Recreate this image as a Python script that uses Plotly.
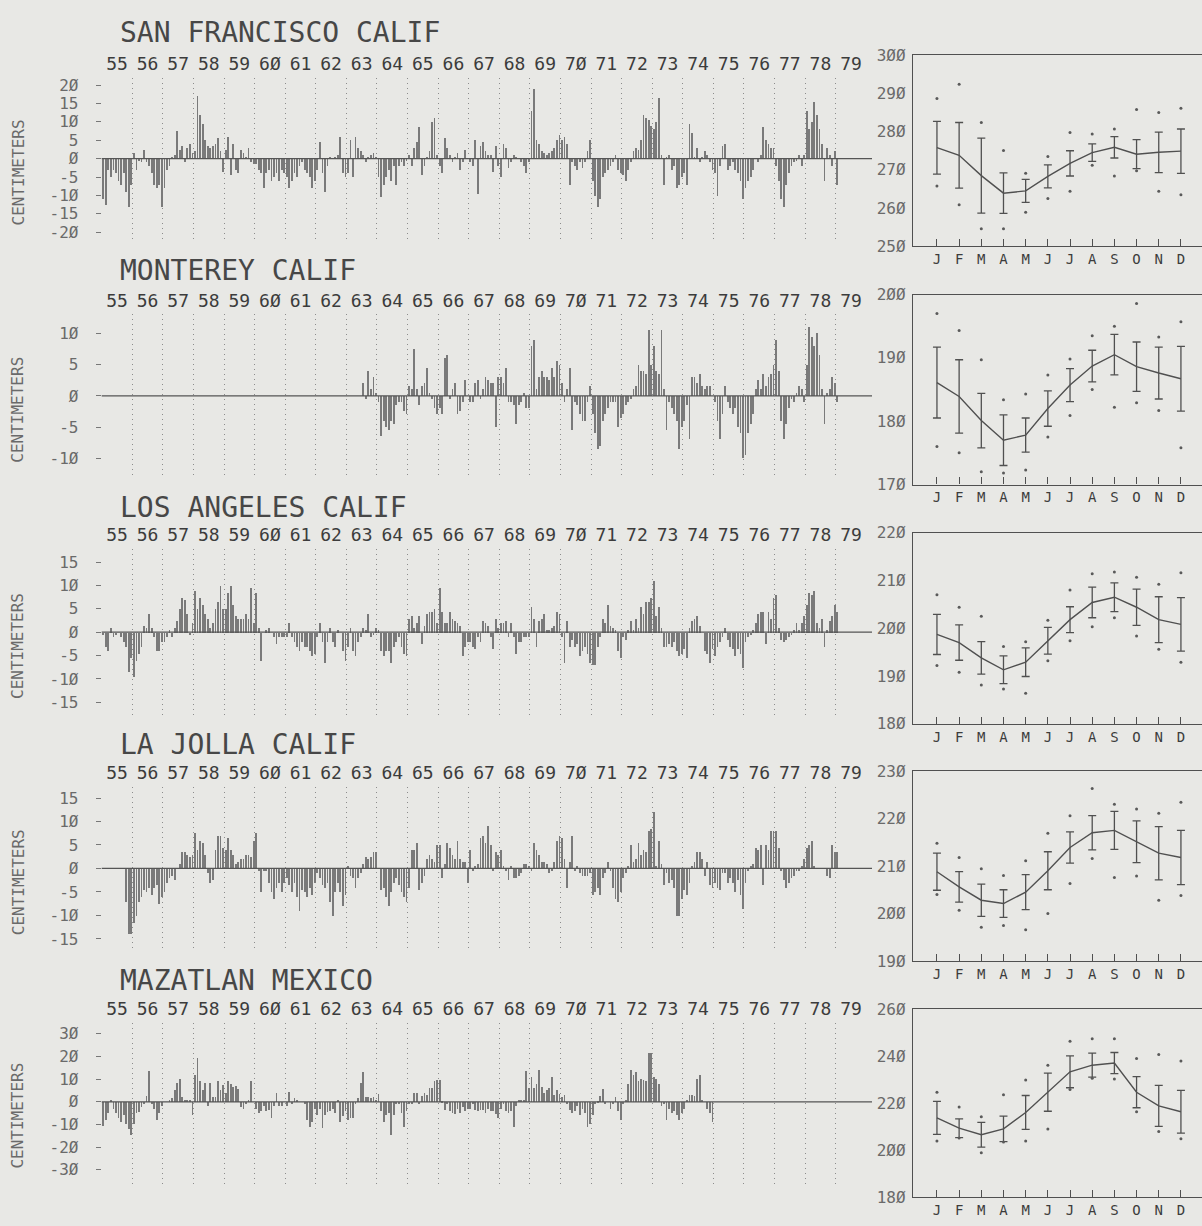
import plotly.graph_objects as go

W, H = 1202, 1226

# ---------------------------------------------------------------- data
YEARS = list(range(1955, 1980))
YEAR_LABELS = [str(y)[2:] for y in YEARS]
MONTH_LABELS = ["J", "F", "M", "A", "M", "J", "J", "A", "S", "O", "N", "D"]
N = None

# monthly sea-level anomalies (cm), Jan..Dec for each year 1955-1979
SF_ANOM = [
    -11, -12.5, -3, -5, -3, -4, -6, -7, -4, -9, -13, -7,
    1.5, -3, -0.5, -1, 2.5, -1, -2, -4, -7, -8, -7, -13,
    -8, -3, -2, 0.5, 1, 7.5, 2.5, 3.5, -1, 3, 4, 1.5,
    2, 17, 12, 9.5, 5, 3.5, 3, 3.5, 4, 5.5, 2, -3.5,
    2.5, 6, -4.5, 4, -3, -4, 2.5, 1.5, 0.5, 3, -1, -1.5,
    -1.5, -3, -4, -8, -4, -3, -6, -5, -4, -6, -3, -4,
    -5, -8, -6, -4, -5, -2, -1, -3, -4, -5, -8, -6,
    -3, 4.5, -4, -9, -2, 0.5, 0, 0.5, 1, 6, -4, -5,
    -4, 5, -5, 6, 3, 2, 1, -1, 0.5, 1, 1.5, 0.5,
    -5, -10.5, -7, -5, -3, -6, -2, -7, -2, -1, -2, -0.5,
    1, -2, 3, 4.5, 8.5, -4.5, -2, 0.5, 2, 10, 11, 1,
    -2, -4, 5.5, 3, 1, -1, 0.5, 1.5, -3, -1, 2.5, 0,
    -1, -2, 5, -9.5, 3.5, 4.5, 2, 1, 1, -3.5, 3.5, -2,
    -5, 4, 3, -2.5, -1, 1, 0.5, 0, -1, -2, -4, -1,
    13, 19, 5, 4, 2, 1.5, 1, 1.5, 2, 3, 5, 6.5,
    5, 6, 4, -7, -1, -2, -3, -1, -2.5, -1, 2, 5,
    -6, -10, -13, -11, -5, -4, -3, -2, -1, 1, -3, -4,
    -4.5, -6, -3, -1, 2, 3, 2.5, 5, 12, 11, 10.5, 9,
    8, 10, 16.5, 1, -7, 0.5, 1, -3, -2, -8, -7, -5,
    -4, -7, 9.5, 7, 0.5, 3, -1, 0.5, 2, 1, -1, -3,
    -4, -10, -2, 3.5, 4, -3, -2, -1, -3, -4, -6, -11,
    -8, -6, -5, -3, 0, -1, 1, 8.5, 5, 4, 3, 3,
    -2, -6, -11, -13, -7, -4, -2, -1, -0.5, 1, -2, 1,
    13, 8, 10, 15.5, 12, 8, 4, -6, 3, 1, -2, 2,
    -7, N, N, N, N, N, N, N, N, N, N, N,
]

MONTEREY_ANOM = [N] * 12 * 8 + [
    N, N, N, N, N, N, 2, -0.5, 4, 1, 3, 0.5,
    -1, -6.5, -4, -5, -5.5, -4, -4.5, -1.5, -1, -1, -2.5, -3,
    1.5, 1, 7.5, 1, -1.5, 1.5, 2, 4.5, 0.5, -0.5, -2, -3,
    -2, -3, 6, 6.5, -0.5, 1, 2, -3, -2.5, -1, 2.5, 0,
    -1, -1, 2, 2.5, -0.5, 1, 3, 2.5, 2, 2, -5, 3,
    3, 2, 4.5, -1, -1, -1.5, -4.5, -1.5, -1, 0.5, -2, -2,
    8, 9, 1, 3, 4, 3, 3, 2.5, 4.5, 3, 5.5, 5,
    2, -1, 1, 4.5, -5.5, -1, -1.5, -3, -4, -4, -1, 1.5,
    -3, -6, -8.5, -8, -4, -3, -2, -1, -1, -1, -5, -3.5,
    -3, -1.5, -1, -0.5, 1, 1.5, 5, 4, 4, 3.5, 10.5, 5,
    8, 4, 3.5, 10.5, 1, -5.5, -1, -2, -3, -4, -8.5, -5,
    -4, -1.5, -7, 3, 3, 2, 3.5, 1.5, 1, 1.5, 1.5, 0,
    -1, -4, -7, -3, 1.5, -1, -2, -3, -2, -5, -6, -10,
    -9.5, -6, -4.5, -3, 1, 2.5, 1, 3.5, 1.5, 3, 3.5, 5,
    9, 4, -4, -7, -4.5, -2, -0.5, -1, 0.5, 1.5, 1, -1,
    5, 11, 9.5, 8, 10, 6.5, 1, -4.5, 0.5, 1, 3, 2,
    -1, N, N, N, N, N, N, N, N, N, N, N,
]

LA_ANOM = [
    -0.5, -3, -4, 1, -1, -0.5, 0, -1, -2, -3, -8.5, -5.5,
    -9.5, -6, -4.5, -3, 1.5, 1, 4, 1, -1, -4, -4, -2,
    -2, -1, 0.5, -1, 1, 2.5, 5, 7.5, 7, 4, -0.5, 2,
    9, 5, 7.5, 6, 4, 3, 1, 2, 5, 6.5, 10, 5,
    5, 8.5, 10, 6, 3.5, 3, 3, 3, 4, 3, 9.5, 2,
    8.5, 1, -6, 0, 0.5, 1, 0, -1, -2.5, -1, -1, -1,
    -1, 2, -1, -2, -3, -4, -2, -3, -3, -4, -5, -4.5,
    -1, 2, -2, -6.5, -2, 1, -2, -3, 0.5, 0, -4, -6,
    -3, 1, -4, -5, -2, -1, 1, 0.5, 4, -1, -0.5, 1,
    0.5, -4, -5, -4, -4, -6.5, -3, -2, -1, -3, -4.5, -5,
    3, 3.5, 1, 2, 3.5, -2.5, 1.5, 4, 4.5, 4.5, 5, 2,
    9.5, 4.5, 2, 2, 4.5, 3, 2.5, 2, 1.5, -5, -3, -2,
    -2, -3, -3.5, -1, -2, 2.5, 2, 1.5, -1, -3.5, 3, 1,
    2, 2, 2.5, -1, 2, -1, -4.5, -2, -2, -1, -1, -1,
    5.5, 3, -3, 2.5, 3, 4, 0.5, 0.5, 1, 1.5, 4.5, 4,
    -1, -6.5, 2.5, -3, -1.5, -3, -2.5, -5, -4, -3, -4.5, -6.5,
    -7, -7, -3, -1, 3, 2, 6, 1.5, 1, 0.5, -4, -5.5,
    -1, -1.5, 0.5, 2.5, 0.5, 3, 1, 5.5, 4, 6.5, 6.5, 7.5,
    11, 3.5, 5.5, 1, -3, -3, -2.5, -3, -2, -4, -5, -4.5,
    -3.5, -5.5, 1, 2.5, 3, 3.5, 1.5, 0, -4, -4.5, -6.5, -3.5,
    -5, -3, -2, -1, 1, -1.5, -3, -3.5, -5, -3.5, -4.5, -7.5,
    -2, -1, -0.5, 0.5, 2, 4, 4.5, 4.5, -2.5, 4.5, 3, 7.5,
    8, 1, -1.5, -2, -1.5, -1, -0.5, 0.5, 2, 0.5, 2, 3.5,
    6, 8.5, 8, 9, 2, 1, 3, -3, 0.5, 2.5, 3.5, 6,
    4.5, N, N, N, N, N, N, N, N, N, N, N,
]

LA_JOLLA_ANOM = [
    N, N, N, N, N, N, N, N, N, -7, -14, -14,
    -11.5, -10, -7, -6, -4.5, -5, -4, -5.5, -4, -3.5, -7.5, -6,
    -5, -3, -2, -1.5, -2.5, 0, 1, 3.5, 3.5, 3, 2.5, 3,
    7.5, 4, 6, 5.5, 3, -1, -3, -2.5, 4, 7, 7, 4.5,
    4, 6.5, 4, 3, 1, 1.5, 2, 2, 3, 3, 2.5, 6,
    7.5, -0.5, -5, -0.5, -0.5, -3, -5, -6.5, -4, -3, -5, -3,
    -2, -3.5, -5, -3, -6, -9, -4.5, -5, -6, -4, -5.5, -3,
    -1, -2, -3.5, -4, -3, -7, -10, -5, -3, -5, -8, -5.5,
    0.5, -1.5, -2, -4, -2, -1, 1, 2.5, 2, 2.5, 3.5, 3.5,
    0, -4.5, -4, -6, -8, -5, -3, -2, -3.5, -5, -6, -7,
    -4, 4, 4, 5.5, -4.5, -3, -1.5, 2, 3, 2, 1.5, 5,
    5, -2, 1, 5.5, 4.5, 3, 2, 6, 2, 1.5, 1.5, -3,
    4, -0.5, 0.5, 1, 6.5, 7, 5.5, 9, 5, -0.5, 3.5, 3,
    4, 0.5, -0.5, -2.5, 0.5, -2, -2, -1.5, -1, 1, 1, 0.5,
    -0.5, 5.5, 4, 3, 1.5, 1.5, 1, -1, -0.5, 1.5, 6, 7,
    6.5, 2, -4, 1.5, 7, -0.5, 0.5, -1, -1.5, -1.5, -1.5, -1,
    -5.5, -5, -4, -5.5, -2, -1, 1.5, -0.5, -4, -6.5, -7, -5,
    -2, -1, 0.5, 5, 1.5, 2, 5.5, 3, 4, 3.5, 8, 8.5,
    12, 0.5, 6, 1, -3.5, -1, -3, -2.5, -4, -10, -10, -6.5,
    -4.5, -5.5, -3, 0.5, 1.5, 3.5, 3.5, 2, -1.5, 1.5, -3.5, -4,
    -3, -4, -4.5, -1, -1, -3, -2, -3, -5, -2.5, -5.5, -8.5,
    -3, -0.5, 0.5, 1, 4.5, 4, 5, -3.5, 5, 4, 8, 8,
    8, 4.5, -0.5, -2.5, -4, -3, -2, -1.5, -0.5, -0.5, 0.5, 2,
    4.5, 5, 6, 0.5, 0, 0, 0, 0, -1.5, -2, 5, 3.5,
    3.5, N, N, N, N, N, N, N, N, N, N, N,
]

MAZATLAN_ANOM = [
    -10.5, -8, -5, 1, -3, -5, -7, -9, -6, -10, -12, -14.5,
    -10, -5, -4.5, -2.5, -1, 2.5, 13.5, -1, -3, -8, -5, -2,
    0, 0, 0.5, 1.5, 5, 8.5, 10, 2, 1, 0.5, 0.5, -6,
    12, 19.5, 9, 5, 8.5, -2, 8.5, 2, 2, 9, 5, 7.5,
    4, 9, 8, 6.5, 7, 5.5, -2.5, -3, -1, 0.5, 9, 0,
    -3, -5, -4, -2, -4, -3.5, -7, -2, 4, -2, -2, 0,
    -2, 4.5, -1, 1.5, 0.5, 0, 0, -1, -8, -11, -9, -3,
    -6, -3, -11.5, -6, -4.5, -4, -3, -5, 1, -9, -6.5, -4,
    -8, -7, -7, -1, 1.5, 8.5, 13, 2, 2, 1.5, 2, 1,
    3.5, -4, -9, -6, -5, -14.5, -6, -1, -1, -5, -11, -4,
    -1, -1, 4, 4, -1, 2.5, 4, 3, 6, 6, 9, 9.5,
    9.5, -0.5, -3.5, -1, -4, -5, -5.5, -3, -5, -2.5, -4, -3,
    -3, -1, -3.5, -4, -3.5, -3.5, -5, -3, -4, -4, -5.5, -7,
    -3, -1, -4, -5, -4, -11, -2, 1, 0.5, 1, 13.5, 6,
    11, 6, 8, 14, 6.5, 4, 5, 6, 11, 3, 5, 3.5,
    2, 3, -1, -3.5, -5, -4, -2, -6, -3, -5, -11, -10,
    -6, -1, -0.5, 2.5, 5.5, -1, 0, -3, -1, 2, -4, -8,
    -1, 1, 8, 14, 12, 13, 9, 10, 9.5, 9, 21.5, 21.5,
    11, 10, 8, -2, -1, -8, -3, -5, -4, -6, -8, -5,
    -3, 0.5, 3, 3, 2.5, 10, 12, 1, 0, -3, -5, -9,
] + [N] * 12 * 5

# monthly mean sea level (cm): mean, standard deviation, extreme high, extreme low
SF_MEAN = [275.8, 273.8, 268.5, 263.9, 264.5, 268.3, 271.7, 274.5, 275.9, 274.1, 274.6, 274.9]
SF_STD = [6.9, 8.6, 9.8, 5.3, 3.0, 3.0, 3.3, 2.3, 2.8, 3.8, 5.3, 5.8]
SF_MAX = [288.7, 292.4, 282.4, 275.1, 269.1, 273.5, 279.8, 279.4, 280.7, 285.8, 285.0, 286.1]
SF_MIN = [265.8, 260.9, 254.6, 254.6, 258.9, 262.5, 264.4, 271.2, 268.4, 269.8, 264.4, 263.5]

MONTEREY_MEAN = [186.1, 183.9, 180.1, 177.0, 177.8, 182.0, 185.7, 188.7, 190.5, 188.6, 187.6, 186.7]
MONTEREY_STD = [5.6, 5.8, 4.3, 4.0, 2.7, 2.8, 2.6, 2.5, 3.2, 3.9, 4.1, 5.1]
MONTEREY_MAX = [197.0, 194.3, 189.7, 183.4, 184.3, 187.3, 189.8, 193.5, 195.0, 198.6, 193.3, 195.7]
MONTEREY_MIN = [176.0, 175.0, 172.0, 171.8, 172.3, 177.5, 180.9, 185.0, 182.2, 182.9, 181.7, 175.8]

LA_MEAN = [198.7, 197.0, 193.8, 191.3, 192.9, 197.4, 201.8, 205.4, 206.5, 204.4, 201.8, 200.8]
LA_STD = [4.2, 3.7, 3.4, 2.9, 3.0, 2.8, 2.7, 3.2, 3.0, 3.8, 4.8, 5.6]
LA_MAX = [207.0, 204.4, 202.5, 196.2, 197.2, 201.7, 208.0, 211.4, 211.8, 210.7, 209.2, 211.6]
LA_MIN = [192.2, 190.8, 188.1, 187.3, 186.4, 193.2, 197.4, 200.3, 202.2, 198.4, 195.6, 192.9]

LA_JOLLA_MEAN = [208.8, 205.6, 202.8, 202.1, 204.5, 209.0, 213.9, 217.0, 217.5, 215.1, 212.7, 211.8]
LA_JOLLA_STD = [3.9, 3.2, 3.4, 2.9, 3.7, 4.0, 3.3, 3.6, 4.0, 4.4, 5.6, 5.7]
LA_JOLLA_MAX = [214.8, 211.8, 209.4, 208.0, 211.1, 216.9, 220.6, 226.3, 223.0, 222.0, 221.1, 223.4]
LA_JOLLA_MIN = [204.0, 200.7, 197.1, 197.5, 196.6, 200.0, 206.3, 211.6, 207.6, 207.9, 202.8, 203.8]

MAZATLAN_MEAN = [213.8, 209.4, 206.6, 209.1, 216.1, 224.7, 233.4, 236.2, 237.1, 224.7, 218.9, 216.4]
MAZATLAN_STD = [7.0, 4.0, 5.3, 5.4, 7.2, 8.1, 6.8, 5.1, 4.5, 6.6, 8.7, 9.1]
MAZATLAN_MAX = [224.7, 218.4, 214.3, 223.6, 229.9, 236.2, 246.4, 247.4, 247.4, 239.0, 240.8, 238.0]
MAZATLAN_MIN = [204.0, 205.2, 198.9, 203.5, 204.0, 209.1, 225.9, 230.6, 230.3, 216.4, 208.0, 204.9]

STATIONS = ["SAN FRANCISCO CALIF", "MONTEREY CALIF", "LOS ANGELES CALIF",
            "LA JOLLA CALIF", "MAZATLAN MEXICO"]
ANOMALIES = [SF_ANOM, MONTEREY_ANOM, LA_ANOM, LA_JOLLA_ANOM, MAZATLAN_ANOM]
MEANS = [SF_MEAN, MONTEREY_MEAN, LA_MEAN, LA_JOLLA_MEAN, MAZATLAN_MEAN]
STDS = [SF_STD, MONTEREY_STD, LA_STD, LA_JOLLA_STD, MAZATLAN_STD]
MAXS = [SF_MAX, MONTEREY_MAX, LA_MAX, LA_JOLLA_MAX, MAZATLAN_MAX]
MINS = [SF_MIN, MONTEREY_MIN, LA_MIN, LA_JOLLA_MIN, MAZATLAN_MIN]

ANOM_TICKS = [list(range(-20, 21, 5)), list(range(-10, 11, 5)), list(range(-15, 16, 5)),
              list(range(-15, 16, 5)), list(range(-30, 31, 10))]
CLIM_TICKS = [list(range(250, 301, 10)), list(range(170, 201, 10)), list(range(180, 221, 10)),
              list(range(190, 231, 10)), list(range(180, 261, 20))]

# ---------------------------------------------------------------- layout geometry (pixels)
# left panels: zero-line pixel, pixels per cm, top and bottom of plot area
LEFT_GEOM = [(152, 3.74, 70, 238), (393, 6.33, 310, 476), (633, 4.75, 548, 720),
             (873, 4.77, 790, 958), (1110, 2.3, 1030, 1198)]
# right panels: top and bottom of the box
RIGHT_GEOM = [(47, 241), (290, 483), (532, 726), (774, 967), (1016, 1207)]
TITLE_Y = [24, 266, 506, 747, 987]

X_LEFT0, X_LEFT1 = 101.7, 866.3     # 1955.0 .. 1980.0
ZERO_END = 872
X_RIGHT0 = 913

INK = "#505050"
BAR = "#7a7a7a"
GRID = "#8c8c8c"
BG = "#e8e8e5"
FONT = "DejaVu Sans Mono"


def slash0(s):
    return s.replace("0", "\u00d8")


def py(p):
    return 1 - p / H


def px(p):
    return p / W


def axis_id(letter, n):
    return letter if n == 1 else f"{letter}{n}"


fig = go.Figure()
layout = {}
annotations = []
shapes = []

month_x = [y + (m + 0.5) / 12 for y in YEARS for m in range(12)]
clim_x = list(range(1, 13))

for i, name in enumerate(STATIONS):
    la, ra = 2 * i + 1, 2 * i + 2
    lx, ly = axis_id("x", la), axis_id("y", la)
    rx, ry = axis_id("x", ra), axis_id("y", ra)

    # anomaly bars (one thin stroke per month)
    fig.add_trace(go.Bar(x=month_x, y=ANOMALIES[i], width=0.026,
                         marker=dict(color=BAR, line=dict(width=0)),
                         xaxis=lx, yaxis=ly, showlegend=False))

    zero, ppc, top, bot = LEFT_GEOM[i]
    yr_rng = [-(bot - zero) / ppc, (zero - top) / ppc]
    layout[f"xaxis{la}"] = dict(
        domain=[px(X_LEFT0), px(X_LEFT1)], range=[1955, 1980], anchor=ly, side="top",
        tickmode="array", tickvals=[y + 0.5 for y in YEARS],
        ticktext=[slash0(t) for t in YEAR_LABELS], ticks="", ticklabelstandoff=3,
        tickfont=dict(family=FONT, size=18, color="#3c3c3c"),
        showgrid=False, zeroline=False, showline=False,
        minor=dict(tickmode="array", tickvals=YEARS, showgrid=True,
                   gridcolor=GRID, gridwidth=1, griddash="1px,4px", ticks=""),
    )
    layout[f"yaxis{la}"] = dict(
        domain=[py(bot), py(top)], range=yr_rng, anchor=lx,
        tickmode="array", tickvals=ANOM_TICKS[i],
        ticktext=[slash0(str(v)) for v in ANOM_TICKS[i]],
        ticks="outside", ticklen=5, tickwidth=1, tickcolor="#777",
        ticklabelstandoff=14,
        tickfont=dict(family=FONT, size=16, color="#6a6a6a"),
        showgrid=False, zeroline=False, showline=False,
    )
    # zero line, running slightly past the last year
    shapes.append(dict(type="line", xref=f"{lx} domain", yref=ly,
                       x0=0, x1=(ZERO_END - X_LEFT0) / (X_LEFT1 - X_LEFT0), y0=0, y1=0,
                       line=dict(color="#555", width=1.2)))

    annotations.append(dict(text="CENTIMETERS", xref="paper", yref="paper",
                            x=px(18), y=py(zero + 14), textangle=-90, showarrow=False,
                            font=dict(family=FONT, size=16, color="#6a6a6a"),
                            xanchor="center", yanchor="middle"))
    annotations.append(dict(text=name, xref="paper", yref="paper",
                            x=px(118), y=py(TITLE_Y[i]), showarrow=False,
                            font=dict(family=FONT, size=28, color="#474747"),
                            xanchor="left", yanchor="middle"))

    # monthly climatology: mean with one-sigma bars, extremes as dots
    fig.add_trace(go.Scatter(x=clim_x, y=MEANS[i], mode="lines",
                             line=dict(color=INK, width=1.4),
                             error_y=dict(type="data", array=STDS[i], visible=True,
                                          color=INK, thickness=1.3, width=4),
                             xaxis=rx, yaxis=ry, showlegend=False))
    fig.add_trace(go.Scatter(x=clim_x + clim_x, y=MAXS[i] + MINS[i], mode="markers",
                             marker=dict(color="#5a5a5a", size=3),
                             xaxis=rx, yaxis=ry, showlegend=False))

    rt, rb = RIGHT_GEOM[i]
    layout[f"xaxis{ra}"] = dict(
        domain=[px(X_RIGHT0), 1.0], range=[-0.08, 12.95], anchor=ry,
        tickmode="array", tickvals=clim_x, ticktext=MONTH_LABELS,
        ticks="inside", ticklen=7, tickwidth=1.2, tickcolor=INK,
        tickfont=dict(family=FONT, size=14, color="#3c3c3c"),
        showline=True, linecolor=INK, linewidth=1.3, mirror=True,
        showgrid=False, zeroline=False,
    )
    layout[f"yaxis{ra}"] = dict(
        domain=[py(rb), py(rt)], range=[CLIM_TICKS[i][0], CLIM_TICKS[i][-1]], anchor=rx,
        tickmode="array", tickvals=CLIM_TICKS[i],
        ticktext=[slash0(str(v)) for v in CLIM_TICKS[i]],
        ticks="", ticklabelstandoff=3,
        tickfont=dict(family=FONT, size=16, color="#6a6a6a"),
        showline=True, linecolor=INK, linewidth=1.3,
        showgrid=False, zeroline=False,
    )

fig.update_layout(
    width=W, height=H, margin=dict(l=0, r=0, t=0, b=0),
    paper_bgcolor=BG, plot_bgcolor=BG, bargap=0,
    annotations=annotations, shapes=shapes, showlegend=False,
    **layout,
)

fig.write_html("out.html")
